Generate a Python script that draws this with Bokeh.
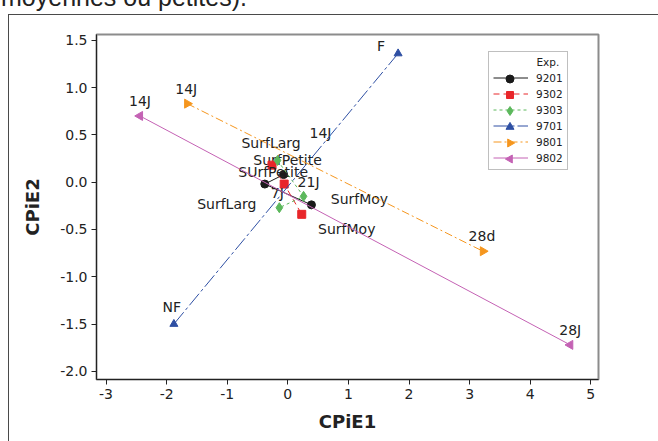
import math
from bokeh.plotting import figure
from bokeh.layouts import column
from bokeh.models import Range1d, Legend, LegendItem, FixedTicker, Div
from bokeh.core.properties import value
from bokeh.embed import file_html
from bokeh.resources import INLINE

# ---------------- data ----------------
x_ticks = [-3, -2, -1, 0, 1, 2, 3, 4, 5]
x_tick_labels = ["-3", "-2", "-1", "0", "1", "2", "3", "4", "5"]
y_ticks = [-2.0, -1.5, -1.0, -0.5, 0.0, 0.5, 1.0, 1.5]
y_tick_labels = ["-2.0", "-1.5", "-1.0", "-0.5", "0.0", "0.5", "1.0", "1.5"]

exp_names = ["9201", "9302", "9303", "9701", "9801", "9802"]

x_9201 = [-0.07, -0.38, 0.39]
y_9201 = [0.08, -0.02, -0.24]
lab_9201 = ["SurfPetite", "SurfLarg", "SurfMoy"]

x_9302 = [-0.26, -0.06, 0.23]
y_9302 = [0.18, -0.02, -0.34]
lab_9302 = ["SurfLarg", "SUrfPetite", "SurfMoy"]

x_9303 = [-0.17, 0.26, -0.14]
y_9303 = [0.23, -0.15, -0.27]
lab_9303 = ["14J", "21J", "7J"]

x_9701 = [1.82, -1.88]
y_9701 = [1.36, -1.50]
lab_9701 = ["F", "NF"]

x_9801 = [-1.66, 3.22]
y_9801 = [0.83, -0.73]
lab_9801 = ["14J", "28d"]

x_9802 = [-2.44, 4.66]
y_9802 = [0.70, -1.72]
lab_9802 = ["14J", "28J"]

caption = "moyennes ou petites)."

# ---------------- styles ----------------
W, H = 658, 441
FL, FR, FT, FB = 96, 598, 34, 379          # frame edges in page pixels
X0, X1 = -3.157, 5.127
Y0, Y1 = -2.086, 1.561

FONT = "DejaVu Sans"
TXT = "#222222"

series = [
    dict(x=x_9201, y=y_9201, lab=lab_9201, color="#1a1a1a", dash="solid", marker="circle", size=8, angle=0.0,
         off=[(4, -15), (-38, 20), (48, -6)]),
    dict(x=x_9302, y=y_9302, lab=lab_9302, color="#e8262a", dash="6 4", marker="square", size=8, angle=0.0,
         off=[(-1, -22), (-11, -12), (45, 15)]),
    dict(x=x_9303, y=y_9303, lab=lab_9303, color="#5cb85c", dash="3 3", marker="diamond", size=10, angle=0.0,
         off=[(43, -27), (5, -14), (-2, -15)]),
    dict(x=x_9701, y=y_9701, lab=lab_9701, color="#2e4fa3", dash="15 3 3 3", marker="triangle", size=8, angle=0.0,
         off=[(-17, -8), (-2, -17)]),
    dict(x=x_9801, y=y_9801, lab=lab_9801, color="#f5961e", dash="8 3 2 3", marker="triangle", size=9, angle=-math.pi / 2,
         off=[(-1, -15), (-1, -15)]),
    dict(x=x_9802, y=y_9802, lab=lab_9802, color="#c462b4", dash="solid", marker="triangle", size=9, angle=math.pi / 2,
         off=[(0, -15), (0, -15)]),
]

p = figure(width=W, height=H, output_backend="svg", toolbar_location=None,
           x_range=Range1d(X0, X1), y_range=Range1d(Y0, Y1),
           min_border_left=FL, min_border_right=W - FR, min_border_top=FT, min_border_bottom=H - FB)

p.styles = {
    "background-color": "white",
    "background-image": "linear-gradient(#4a4a4a, #4a4a4a), linear-gradient(#4a4a4a, #4a4a4a)",
    "background-size": "1px 100%, 100% 1px",
    "background-position": "8px 14px, 8px 14px",
    "background-repeat": "no-repeat",
}
p.border_fill_color = None
p.background_fill_color = "white"
p.outline_line_color = "#8c8c8c"
p.outline_line_width = 2
p.grid.visible = False

for ax in (p.xaxis[0], p.yaxis[0]):
    ax.axis_line_color = "#222222"
    ax.major_tick_line_color = "#222222"
    ax.major_tick_out = 5
    ax.major_tick_in = 0
    ax.minor_tick_line_color = None
    ax.major_label_text_font = FONT
    ax.major_label_text_font_size = "14px"
    ax.major_label_text_color = TXT
    ax.major_label_standoff = 4
    ax.axis_label_text_font = FONT
    ax.axis_label_text_font_size = "18px"
    ax.axis_label_text_font_style = "bold"
    ax.axis_label_text_color = TXT

p.xaxis.ticker = FixedTicker(ticks=x_ticks)
p.yaxis.ticker = FixedTicker(ticks=y_ticks)
p.xaxis.major_label_overrides = {t: s for t, s in zip(x_ticks, x_tick_labels)}
p.yaxis.major_label_overrides = {t: s for t, s in zip(y_ticks, y_tick_labels)}
p.xaxis.axis_label = "CPiE1"
p.yaxis.axis_label = "CPiE2"
p.xaxis.axis_label_standoff = 9
p.yaxis.axis_label_standoff = 14


def px_x(px):
    return X0 + (px - FL) * (X1 - X0) / (FR - FL)


def px_y(py):
    return Y1 - (py - FT) * (Y1 - Y0) / (FB - FT)


# legend geometry (page pixels)
LEG_LEFT, LEG_PAD, LEG_GLYPH_W = 488, 4, 35
LEG_ROW0, LEG_ROW_PITCH = 78.5, 16
legend_marker_sizes = [8, 7, 9, 8, 8, 8]

items = []
for i, (name, s) in enumerate(zip(exp_names, series)):
    lr = p.line(s["x"], s["y"], line_color=s["color"], line_width=1, line_dash=s["dash"])
    p.scatter(s["x"], s["y"], marker=s["marker"], size=s["size"], angle=s["angle"],
              fill_color=s["color"], line_color=s["color"])
    p.text(x=s["x"], y=s["y"], text=s["lab"],
           x_offset=[o[0] for o in s["off"]], y_offset=[o[1] for o in s["off"]],
           text_align="center", text_baseline="middle",
           text_font=value(FONT), text_font_size="14px", text_color=TXT)
    items.append(LegendItem(label=name, renderers=[lr]))
    # legend key marker (drawn under the transparent legend box, same colour as its key line)
    p.scatter([px_x(LEG_LEFT + LEG_PAD + LEG_GLYPH_W / 2)], [px_y(LEG_ROW0 + i * LEG_ROW_PITCH)],
              marker=s["marker"], size=legend_marker_sizes[i], angle=s["angle"],
              fill_color=s["color"], line_color=s["color"])

legend = Legend(items=items, location=(LEG_LEFT - FL, 209),
                title="\u00a0" * 13 + "Exp.", title_text_font=FONT, title_text_font_size="10.5px",
                title_text_font_style="normal", title_text_color=TXT, title_standoff=2,
                label_text_font=FONT, label_text_font_size="10.5px", label_text_color=TXT,
                glyph_width=LEG_GLYPH_W, glyph_height=15, label_height=15, spacing=1,
                label_standoff=8, padding=LEG_PAD, margin=0,
                border_line_color="#808080", border_line_width=1,
                background_fill_color=None, background_fill_alpha=0.0)
p.add_layout(legend)

# partially visible caption of the surrounding document (cut by the top of the page)
cap = Div(text=caption, width=320, height=30,
          styles={"position": "absolute", "top": "-17px", "left": "1px", "z-index": "5",
                  "font-family": "Liberation Sans, Arial, sans-serif", "font-size": "25px",
                  "color": TXT, "white-space": "nowrap", "margin": "0", "line-height": "normal"})

layout = column(cap, p, spacing=0)

open("out.html", "w").write(file_html(layout, INLINE))
